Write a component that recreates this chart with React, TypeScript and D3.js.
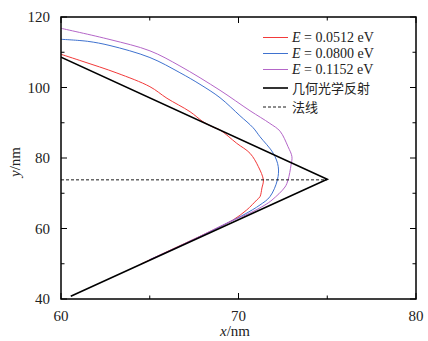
import React from "react";
import * as d3 from "d3";

const redX = [60.0, 61.24, 63.15, 65.01, 65.97, 67.27, 68.0, 68.56, 68.96, 69.9, 70.65, 71.12, 71.4, 71.32, 71.21, 71.03, 70.46, 69.69, 68.77, 67.5, 66.0, 64.5];
const redY = [109.42, 107.38, 104.11, 100.23, 96.94, 93.13, 90.3, 88.79, 87.94, 84.17, 81.33, 77.53, 73.76, 71.49, 69.02, 68.09, 65.25, 62.41, 60.06, 57.0, 53.5, 49.9];
const blueX = [60.0, 61.5, 62.76, 65.01, 66.7, 67.83, 68.96, 70.08, 70.82, 71.21, 71.96, 72.24, 72.19, 71.77, 71.21, 70.37, 69.52, 68.0, 66.5, 65.0];
const blueY = [113.67, 113.1, 111.9, 108.5, 104.2, 100.9, 97.1, 92.0, 88.6, 86.04, 81.33, 77.53, 73.76, 69.02, 66.67, 64.11, 61.93, 58.1, 54.5, 51.1];
const purpleX = [60.0, 62.76, 65.01, 66.7, 68.96, 70.65, 71.77, 72.34, 72.79, 73.01, 72.96, 72.79, 72.62, 71.89, 71.49, 70.65, 69.52, 68.0, 66.5, 65.0];
const purpleY = [116.79, 113.6, 110.4, 106.1, 99.2, 93.4, 89.8, 87.6, 83.21, 80.37, 78.01, 73.76, 71.77, 68.09, 66.67, 64.4, 61.93, 58.2, 54.6, 51.2];
const geoX = [60.0, 75.0, 60.55];
const geoY = [108.6, 74.0, 40.8];
const normalX = [60, 75];
const normalY = [73.8, 73.8];

const xMajor = [60, 70, 80];
const xMinor = [65, 75];
const yMajor = [40, 60, 80, 100, 120];
const yMinor = [50, 70, 90, 110];

const legendEnergies = ["0.0512", "0.0800", "0.1152"];
const legendOther = ["几何光学反射", "法线"];

const RED = "#f23a3a";
const BLUE = "#3f72cf";
const PURPLE = "#b466c8";

export default function App() {
  const x = d3.scaleLinear().domain([60, 80]).range([61, 416]);
  const y = d3.scaleLinear().domain([40, 120]).range([299, 17]);
  const smooth = (xs: number[], ys: number[]) =>
    d3.line<number>().x((_, i) => x(xs[i])).y((_, i) => y(ys[i])).curve(d3.curveCatmullRom.alpha(0.5))(xs) || "";
  const straight = (xs: number[], ys: number[]) =>
    d3.line<number>().x((_, i) => x(xs[i])).y((_, i) => y(ys[i]))(xs) || "";

  const serif = "'Liberation Serif', 'Times New Roman', serif";
  const cjk = "'Noto Sans CJK SC', sans-serif";
  const x0 = x(60), x1 = x(80), y0 = y(40), y1 = y(120);
  const MAJ = 6, MIN = 3.5;

  const legendRows = [
    { color: RED, label: legendEnergies[0] },
    { color: BLUE, label: legendEnergies[1] },
    { color: PURPLE, label: legendEnergies[2] },
  ];
  const lx0 = 263, lx1 = 288, ltx = 292;
  const rowY = [37.5, 53.5, 69.5, 88, 107];

  return (
    <svg width={428} height={341} style={{ position: "absolute", left: 0, top: 0, background: "#fff" }}>
      <rect x={0} y={0} width={428} height={341} fill="#fff" />
      <defs>
        <clipPath id="plot">
          <rect x={x0} y={y1} width={x1 - x0} height={y0 - y1} />
        </clipPath>
      </defs>
      <g clipPath="url(#plot)">
        <path d={smooth(redX, redY)} fill="none" stroke={RED} strokeWidth={1} />
        <path d={smooth(blueX, blueY)} fill="none" stroke={BLUE} strokeWidth={1} />
        <path d={smooth(purpleX, purpleY)} fill="none" stroke={PURPLE} strokeWidth={1} />
        <path d={straight(normalX, normalY)} fill="none" stroke="#000" strokeWidth={0.9} strokeDasharray="3,2" />
        <path d={straight(geoX, geoY)} fill="none" stroke="#000" strokeWidth={1.6} />
      </g>
      <g stroke="#000" strokeWidth={1}>
        {xMajor.map((v) => (
          <g key={"xM" + v}>
            <line x1={x(v)} x2={x(v)} y1={y0} y2={y0 - MAJ} />
            <line x1={x(v)} x2={x(v)} y1={y1} y2={y1 + MAJ} />
          </g>
        ))}
        {xMinor.map((v) => (
          <g key={"xm" + v}>
            <line x1={x(v)} x2={x(v)} y1={y0} y2={y0 - MIN} />
            <line x1={x(v)} x2={x(v)} y1={y1} y2={y1 + MIN} />
          </g>
        ))}
        {yMajor.map((v) => (
          <g key={"yM" + v}>
            <line x1={x0} x2={x0 + MAJ} y1={y(v)} y2={y(v)} />
            <line x1={x1} x2={x1 - MAJ} y1={y(v)} y2={y(v)} />
          </g>
        ))}
        {yMinor.map((v) => (
          <g key={"ym" + v}>
            <line x1={x0} x2={x0 + MIN} y1={y(v)} y2={y(v)} />
            <line x1={x1} x2={x1 - MIN} y1={y(v)} y2={y(v)} />
          </g>
        ))}
      </g>
      <rect x={x0} y={y1} width={x1 - x0} height={y0 - y1} fill="none" stroke="#000" strokeWidth={1.5} />
      <g fontFamily={serif} fontSize={15} fill="#222">
        {xMajor.map((v) => (
          <text key={"xl" + v} x={x(v)} y={321} textAnchor="middle">{v}</text>
        ))}
        {yMajor.map((v) => (
          <text key={"yl" + v} x={50} y={y(v) + 5} textAnchor="end">{v}</text>
        ))}
      </g>
      <text x={235} y={336} textAnchor="middle" fontFamily={serif} fontSize={15} fill="#222">
        <tspan fontStyle="italic">x</tspan>/nm
      </text>
      <text transform="translate(20,162) rotate(-90)" textAnchor="middle" fontFamily={serif} fontSize={15} fill="#222">
        <tspan fontStyle="italic">y</tspan>/nm
      </text>
      {legendRows.map((r, i) => (
        <g key={"lg" + i}>
          <line x1={lx0} x2={lx1} y1={rowY[i]} y2={rowY[i]} stroke={r.color} strokeWidth={1} />
          <text x={ltx} y={rowY[i] + 4.5} fontFamily={serif} fontSize={14} fill="#222">
            <tspan fontStyle="italic">E</tspan>{" = " + r.label + " eV"}
          </text>
        </g>
      ))}
      <line x1={lx0} x2={lx1} y1={rowY[3]} y2={rowY[3]} stroke="#000" strokeWidth={1.6} />
      <text x={ltx} y={rowY[3] + 5} fontFamily={cjk} fontSize={13} fill="#222">{legendOther[0]}</text>
      <line x1={lx0} x2={lx1} y1={rowY[4]} y2={rowY[4]} stroke="#000" strokeWidth={0.9} strokeDasharray="3,2" />
      <text x={ltx} y={rowY[4] + 5} fontFamily={cjk} fontSize={13} fill="#222">{legendOther[1]}</text>
    </svg>
  );
}
